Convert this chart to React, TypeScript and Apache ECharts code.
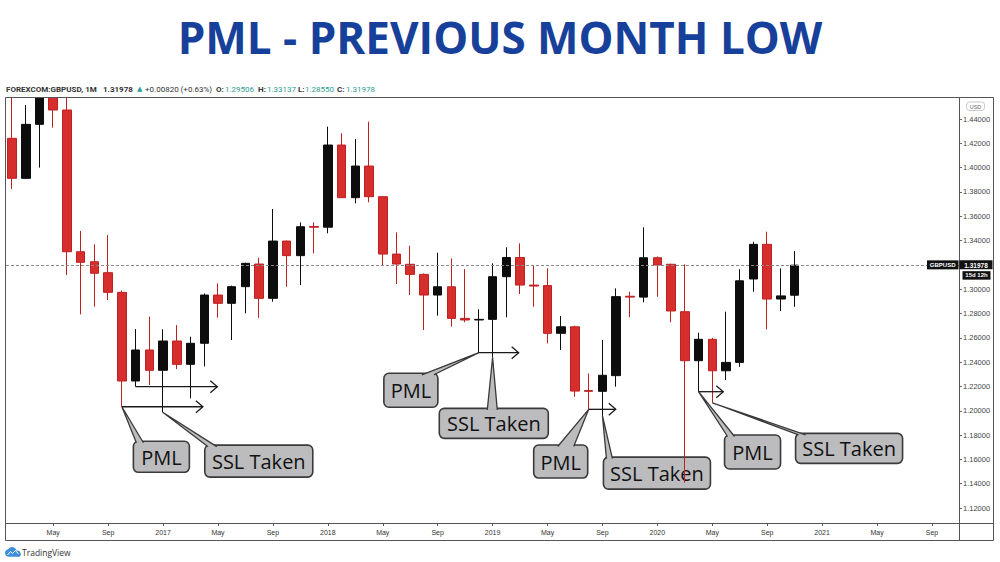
import React, { useEffect, useRef } from "react";
import * as echarts from "echarts";

// ---------- DATA ----------
const months = [
  "2016-02", "2016-03", "2016-04", "2016-05", "2016-06", "2016-07", "2016-08", "2016-09", "2016-10", "2016-11", "2016-12",
  "2017-01", "2017-02", "2017-03", "2017-04", "2017-05", "2017-06", "2017-07", "2017-08", "2017-09", "2017-10", "2017-11", "2017-12",
  "2018-01", "2018-02", "2018-03", "2018-04", "2018-05", "2018-06", "2018-07", "2018-08", "2018-09", "2018-10", "2018-11", "2018-12",
  "2019-01", "2019-02", "2019-03", "2019-04", "2019-05", "2019-06", "2019-07", "2019-08", "2019-09", "2019-10", "2019-11", "2019-12",
  "2020-01", "2020-02", "2020-03", "2020-04", "2020-05", "2020-06", "2020-07", "2020-08", "2020-09", "2020-10", "2020-11",
];

const opens = [
  1.4241, 1.3912, 1.4356, 1.4612, 1.4474, 1.3308, 1.3226, 1.3136, 1.2974, 1.2245, 1.25,
  1.2333, 1.2574, 1.2382, 1.2555, 1.2952, 1.2884, 1.3021, 1.3207, 1.2925, 1.3396, 1.3276, 1.3516,
  1.351, 1.4186, 1.3753, 1.4013, 1.3761, 1.3289, 1.3205, 1.3122, 1.2952, 1.302, 1.276, 1.2747,
  1.2752, 1.3103, 1.3261, 1.3034, 1.303, 1.2637, 1.2691, 1.2166, 1.216, 1.2289, 1.2942, 1.2935,
  1.3259, 1.3205, 1.2815, 1.2412, 1.2588, 1.2329, 1.2398, 1.3084, 1.3369, 1.2919, 1.29506,
];
const closes = [
  1.3912, 1.4356, 1.4612, 1.4474, 1.3308, 1.3221, 1.3131, 1.2974, 1.2245, 1.25, 1.2333,
  1.2574, 1.2382, 1.2555, 1.2952, 1.2884, 1.3021, 1.3213, 1.2925, 1.3396, 1.3276, 1.3514, 1.351,
  1.4186, 1.3753, 1.4013, 1.3761, 1.3289, 1.3207, 1.3122, 1.2952, 1.302, 1.276, 1.2747, 1.2752,
  1.3103, 1.3261, 1.3034, 1.3026, 1.2637, 1.2691, 1.2162, 1.216, 1.2292, 1.2939, 1.2935, 1.3259,
  1.3199, 1.2821, 1.2412, 1.2588, 1.2329, 1.2398, 1.3069, 1.3369, 1.2919, 1.2945, 1.31978,
];
const lows = [
  1.3824, 1.3905, 1.4, 1.4329, 1.3117, 1.2793, 1.2856, 1.2911, 1.2033, 1.2198, 1.2212,
  1.1986, 1.2344, 1.2102, 1.2365, 1.2766, 1.2582, 1.2802, 1.2765, 1.2897, 1.302, 1.3034, 1.3295,
  1.346, 1.375, 1.3706, 1.3715, 1.3193, 1.3043, 1.2952, 1.2664, 1.2782, 1.2692, 1.2728, 1.2478,
  1.2438, 1.2769, 1.296, 1.2856, 1.2555, 1.25, 1.2115, 1.2012, 1.1959, 1.2198, 1.2769, 1.2892,
  1.2938, 1.2728, 1.1409, 1.2157, 1.2066, 1.2253, 1.2362, 1.2979, 1.267, 1.282, 1.2855,
];
const highs = [
  1.4668, 1.4515, 1.477, 1.477, 1.5018, 1.3479, 1.3369, 1.3446, 1.299, 1.2672, 1.2774,
  1.267, 1.2705, 1.2609, 1.2965, 1.3048, 1.303, 1.3218, 1.3259, 1.366, 1.34, 1.355, 1.355,
  1.4337, 1.4282, 1.4235, 1.4378, 1.3765, 1.3468, 1.3358, 1.313, 1.33, 1.3254, 1.3166, 1.2835,
  1.3213, 1.3345, 1.3377, 1.3193, 1.3172, 1.2779, 1.27, 1.2307, 1.2582, 1.3007, 1.2979, 1.3509,
  1.327, 1.321, 1.3205, 1.2642, 1.26, 1.2815, 1.3164, 1.339, 1.3473, 1.3172, 1.33137,
];

const yTicks = [1.12, 1.14, 1.16, 1.18, 1.2, 1.22, 1.24, 1.26, 1.28, 1.3, 1.32, 1.34, 1.36, 1.38, 1.4, 1.42, 1.44];
const xTickMonths = [
  "2016-05", "2016-09", "2017-01", "2017-05", "2017-09", "2018-01", "2018-05", "2018-09",
  "2019-01", "2019-05", "2019-09", "2020-01", "2020-05", "2020-09", "2021-01", "2021-05", "2021-09",
];
const xTickLabels = ["May", "Sep", "2017", "May", "Sep", "2018", "May", "Sep", "2019", "May", "Sep", "2020", "May", "Sep", "2021", "May", "Sep"];

const symbolName = "GBPUSD";
const lastPrice = 1.31978;
const barCountdown = "15d 12h";
const infoTexts = ["FOREXCOM:GBPUSD, 1M", "1.31978", "▲", "+0.00820 (+0.63%)", "O:", "1.29506", "H:", "1.33137", "L:", "1.28550", "C:", "1.31978"];

const arrowMonths = ["2016-11", "2016-10", "2018-12", "2019-08", "2020-04"];
const calloutMonths = ["2016-10", "2017-01", "2018-12", "2019-01", "2019-08", "2019-09", "2020-04", "2020-05"];
const calloutTexts = ["PML", "SSL Taken", "PML", "SSL Taken", "PML", "SSL Taken", "PML", "SSL Taken"];

// ---------- LAYOUT ----------
const arrowLengths = [5.95, 5.9, 2.9, 1.97, 1.8];
const calloutLayout = [
  { dx: 11.5, dy: 34.5, w: 56, h: 31, b0: 3, b1: 10 },
  { dx: 41.7, dy: 32.6, w: 108, h: 32, b0: 3, b1: 12 },
  { dx: -95, dy: 20.6, w: 54, h: 34, b0: 38, b1: 50 },
  { dx: -53.3, dy: 50.8, w: 109, h: 30, b0: 48, b1: 58 },
  { dx: -55, dy: 35.7, w: 54, h: 33, b0: 24, b1: 40 },
  { dx: 1, dy: 41.4, w: 107, h: 32, b0: 3, b1: 9 },
  { dx: 26, dy: 43.3, w: 56, h: 34, b0: 3, b1: 10 },
  { dx: 83.3, dy: 30.6, w: 107, h: 30, b0: 3, b1: 10 },
];
const infoX = [6, 103, 137, 145, 216, 225, 258, 267, 298, 305, 337, 346];

const monthIndex = (s: string) => {
  const [y, m] = s.split("-").map(Number);
  return (y - 2016) * 12 + (m - 2);
};
const xTickIdx = xTickMonths.map(monthIndex);
// the 1.32000 label sits under the last-price tag and is hidden in the reference
const yLabelValues = yTicks.filter((v) => Math.abs(v - lastPrice) > 0.006);

const LOGO_D =
  "M6 14 C2.7 14 0 11.6 0 8.6 C0 5.9 2.1 3.7 4.8 3.3 C6 1.3 8.2 0 10.7 0 C14 0 16.7 2.2 17.4 5.2 C17.8 5.1 18.2 5.1 18.6 5.1 C21.6 5.1 24 7.4 24 10.2 C24 12.3 22.3 14 20.2 14 Z";
try {
  echarts.graphic.registerShape("tvlogo", echarts.graphic.extendPath(LOGO_D, {}) as any);
} catch (e) {}

export default function App() {
  const ref = useRef<HTMLDivElement>(null);
  useEffect(() => {
    if (!ref.current) return;
    const chart = echarts.init(ref.current, undefined, { renderer: "svg" });
    const data = months.map((m, i) => [monthIndex(m), opens[i], closes[i], lows[i], highs[i]]);
    chart.setOption({
      animation: false,
      backgroundColor: "#ffffff",
      grid: { left: 6, right: 41, top: 97, bottom: 39 },
      xAxis: {
        type: "value",
        position: "bottom",
        min: -0.44,
        max: 68.97,
        axisLine: { show: false, onZero: false },
        splitLine: { show: false },
        axisTick: { show: true, customValues: xTickIdx, length: 3, lineStyle: { color: "#555" } },
        axisLabel: {
          customValues: xTickIdx,
          formatter: (v: number) => xTickLabels[xTickIdx.indexOf(Math.round(v))] ?? "",
          fontSize: 7,
          color: "#333",
          margin: 6,
          fontFamily: "Liberation Sans",
        },
      },
      yAxis: {
        type: "value",
        position: "right",
        min: 1.1077,
        max: 1.4581,
        axisLine: { show: false, onZero: false },
        splitLine: { show: false },
        axisTick: { show: true, customValues: yTicks, length: 3, lineStyle: { color: "#666" } },
        axisLabel: {
          customValues: yLabelValues,
          formatter: (v: number) => v.toFixed(5),
          fontSize: 7.5,
          color: "#444",
          margin: 4,
          fontFamily: "Liberation Sans",
        },
      },
      series: [
        {
          type: "candlestick",
          data,
          barWidth: 9,
          clip: true,
          itemStyle: {
            color: "#0d0d0d",
            color0: "#d62d2d",
            borderColor: "#0d0d0d",
            borderColor0: "#c02020",
            borderWidth: 1,
          },
          markLine: {
            silent: true,
            symbol: ["none", "none"],
            label: { show: false },
            lineStyle: { color: "#8a8a8a", type: [3, 2], width: 1 },
            data: [{ yAxis: lastPrice }],
          },
        },
      ],
    });

    const P = (x: number, y: number) => chart.convertToPixel({ gridIndex: 0 }, [x, y]) as number[];
    const els: any[] = [];
    // mask above the plot (candles beyond the top of the price scale are cut off)
    els.push({ type: "rect", z: 8, shape: { x: 0, y: 0, width: 1000, height: 97.5 }, style: { fill: "#fff" } });
    // title
    els.push({
      type: "text",
      x: 500,
      y: 37,
      z: 10,
      style: {
        text: "PML - PREVIOUS MONTH LOW",
        fontSize: 44,
        fontWeight: "bold",
        fontFamily: "Open Sans",
        fill: "#17409a",
        align: "center",
        verticalAlign: "middle",
      },
    });
    // info bar
    infoTexts.forEach((t, k) => {
      const isVal = k === 5 || k === 7 || k === 9 || k === 11;
      const bold = k === 0 || k === 1 || k === 4 || k === 6 || k === 8 || k === 10;
      els.push({
        type: "text",
        x: infoX[k],
        y: 89,
        z: 10,
        style: {
          text: t,
          fontSize: k === 2 ? 7 : 8,
          fontWeight: bold ? "bold" : "normal",
          fontFamily: k === 2 ? "DejaVu Sans" : "Roboto",
          fill: isVal || k === 2 ? "#2f9d92" : "#333",
          align: "left",
          verticalAlign: "middle",
        },
      });
    });
    // frame
    els.push({ type: "rect", z: 10, shape: { x: 5.5, y: 97.5, width: 988, height: 443 }, style: { fill: null, stroke: "#555", lineWidth: 1 } });
    els.push({ type: "line", z: 10, shape: { x1: 5.5, y1: 523.5, x2: 993.5, y2: 523.5 }, style: { stroke: "#555", lineWidth: 1 } });
    els.push({ type: "line", z: 10, shape: { x1: 959.5, y1: 97.5, x2: 959.5, y2: 540.5 }, style: { stroke: "#555", lineWidth: 1 } });
    // USD box
    els.push({ type: "rect", z: 10, shape: { x: 966.5, y: 102, width: 18, height: 8.5, r: 3 }, style: { fill: "#fff", stroke: "#bbb", lineWidth: 0.8 } });
    els.push({
      type: "text",
      x: 975.5,
      y: 106.5,
      z: 11,
      style: { text: "USD", fontSize: 5.5, fontFamily: "Liberation Sans", fill: "#666", align: "center", verticalAlign: "middle" },
    });
    // price tags
    const py = P(0, lastPrice)[1];
    els.push({ type: "rect", z: 10, shape: { x: 927, y: py - 4.8, width: 31.5, height: 9 }, style: { fill: "#111" } });
    els.push({
      type: "text",
      x: 942.7,
      y: py,
      z: 11,
      style: { text: symbolName, fontSize: 6, fontWeight: "bold", fontFamily: "Liberation Sans", fill: "#fff", align: "center", verticalAlign: "middle" },
    });
    els.push({ type: "rect", z: 10, shape: { x: 959.5, y: py - 4.8, width: 33, height: 9 }, style: { fill: "#111" } });
    els.push({
      type: "text",
      x: 976,
      y: py,
      z: 11,
      style: { text: lastPrice.toFixed(5), fontSize: 6.5, fontWeight: "bold", fontFamily: "Liberation Sans", fill: "#fff", align: "center", verticalAlign: "middle" },
    });
    els.push({ type: "rect", z: 10, shape: { x: 962.5, y: py + 6, width: 28, height: 8.5 }, style: { fill: "#111" } });
    els.push({
      type: "text",
      x: 976.5,
      y: py + 10.3,
      z: 11,
      style: { text: barCountdown, fontSize: 6, fontWeight: "bold", fontFamily: "Liberation Sans", fill: "#fff", align: "center", verticalAlign: "middle" },
    });
    // arrows
    arrowMonths.forEach((m, k) => {
      const i = months.indexOf(m);
      const x0 = monthIndex(m);
      const [sx, sy] = P(x0, lows[i]);
      const ex = P(x0 + arrowLengths[k], lows[i])[0];
      els.push({ type: "polyline", z: 3, shape: { points: [[sx, sy], [ex, sy]] }, style: { stroke: "#1a1a1a", lineWidth: 1.3, fill: null } });
      els.push({
        type: "polyline",
        z: 3,
        shape: { points: [[ex - 7, sy - 6], [ex, sy], [ex - 7, sy + 6]] },
        style: { stroke: "#1a1a1a", lineWidth: 1.3, fill: null },
      });
    });
    // callouts
    calloutMonths.forEach((m, k) => {
      const i = months.indexOf(m);
      const [tx, ty] = P(monthIndex(m), lows[i]);
      const L = calloutLayout[k];
      const bx = tx + L.dx;
      const by = ty + L.dy;
      const p0 = [bx + L.b0, by + 1.5];
      const p1 = [bx + L.b1, by + 1.5];
      els.push({ type: "rect", z: 1, shape: { x: bx, y: by, width: L.w, height: L.h, r: 5 }, style: { fill: "#bcbcbe", stroke: "#3a3a3a", lineWidth: 1.6 } });
      els.push({ type: "polygon", z: 1, shape: { points: [[tx, ty], p0, p1] }, style: { fill: "#bcbcbe", stroke: null } });
      els.push({ type: "polyline", z: 1, shape: { points: [p0, [tx, ty], p1] }, style: { stroke: "#3a3a3a", lineWidth: 1.3, fill: null } });
      els.push({
        type: "text",
        z: 1,
        x: bx + L.w / 2,
        y: by + L.h / 2 + 0.5,
        style: { text: calloutTexts[k], fontSize: 20, fontFamily: "Open Sans", fill: "#111", align: "center", verticalAlign: "middle" },
      });
    });
    // TradingView logo
    els.push({ type: "tvlogo", x: 5, y: 547, scaleX: 0.66, scaleY: 0.7, z: 10, style: { fill: "#3d8fd9" } });
    els.push({
      type: "polyline",
      z: 11,
      shape: { points: [[7.5, 555], [10.5, 551.5], [12.5, 553.5], [15.5, 550.5], [18.5, 554]] },
      style: { stroke: "#fff", lineWidth: 1, fill: null },
    });
    els.push({
      type: "text",
      x: 22,
      y: 552,
      z: 10,
      style: { text: "TradingView", fontSize: 8.5, fontFamily: "Open Sans", fill: "#333", align: "left", verticalAlign: "middle" },
    });
    chart.setOption({ graphic: { elements: els } });
    return () => chart.dispose();
  }, []);
  return <div ref={ref} style={{ position: "fixed", left: 0, top: 0, width: 1000, height: 562, background: "#fff" }} />;
}
